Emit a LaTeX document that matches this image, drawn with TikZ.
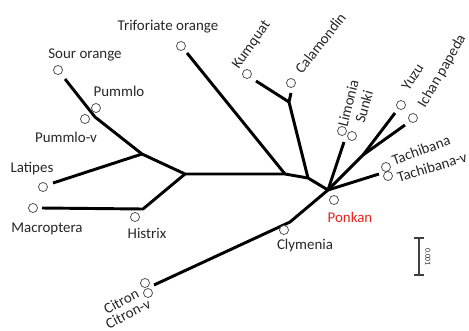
\documentclass[tikz,border=0pt]{standalone}
\usepackage{fontspec}
\setmainfont{Carlito}
\usepackage{xcolor}
\usepackage{tikz}
\usetikzlibrary{positioning}
\definecolor{inkdark}{HTML}{262626}
\definecolor{leafline}{HTML}{555555}
\definecolor{hilite}{HTML}{E8231E}
\tikzset{
  pleaf/.style={circle,draw=leafline,line width=0.6pt,fill=white,minimum size=6.8pt,inner sep=0pt},
  pbranch/.style={line width=2.2pt,draw=black,line join=round},
  plab/.style={text=inkdark,inner sep=1pt,font=\fontsize{11.2}{13}\selectfont},
  pbar/.style={line width=0.8pt,draw=black!75}
}

\begin{document}
\begin{tikzpicture}[x=0.75pt,y=-0.75pt]
  \useasboundingbox (0,0) rectangle (469,330);
  % inner junctions
  \coordinate (jP) at (95,117);
  \coordinate (jA) at (142,154);
  \coordinate (jB) at (185,174);
  \coordinate (jH) at (143,209);
  \coordinate (jC) at (285,174);
  \coordinate (jD) at (308,178);
  \coordinate (jK) at (289,102);
  \coordinate (jE) at (328,190);
  \coordinate (jY) at (363,155);
  \coordinate (jCl) at (290,222);
  % branch tips
  \coordinate (tSour) at (65,79);
  \coordinate (tLat) at (53,183);
  \coordinate (tMac) at (42,208);
  \coordinate (tTri) at (187,53);
  \coordinate (tKum) at (256,81);
  \coordinate (tCal) at (291,93);
  \coordinate (tLim) at (344,142);
  \coordinate (tYuzu) at (395,113);
  \coordinate (tIchan) at (405,125);
  \coordinate (tTach) at (379,174);
  \coordinate (tCit) at (154,285);
  % branches
  \draw[pbranch] (tSour)--(jP)--(jA)--(jB)--(jC)--(jD)--(jE);
  \draw[pbranch] (tLat)--(jA);
  \draw[pbranch] (jB)--(jH)--(tMac);
  \draw[pbranch] (tTri)--(jC);
  \draw[pbranch] (tKum)--(jK);
  \draw[pbranch] (jD)--(jK)--(tCal);
  \draw[pbranch] (jE)--(tLim);
  \draw[pbranch] (jE)--(jY)--(tYuzu);
  \draw[pbranch] (jY)--(tIchan);
  \draw[pbranch] (jE)--(tTach);
  \draw[pbranch] (jE)--(jCl)--(tCit);
  % leaves
  \node[pleaf] (sour) at (58,70) {};
  \node[pleaf] (pum) at (96,108) {};
  \node[pleaf] (pumv) at (85,119) {};
  \node[pleaf] (lat) at (43,187) {};
  \node[pleaf] (mac) at (33,208) {};
  \node[pleaf] (his) at (135,217) {};
  \node[pleaf] (tri) at (181,46) {};
  \node[pleaf] (kum) at (247,74) {};
  \node[pleaf] (cal) at (291,83) {};
  \node[pleaf] (lim) at (342,131) {};
  \node[pleaf] (sun) at (352,136) {};
  \node[pleaf] (yuz) at (401,105) {};
  \node[pleaf] (ich) at (413,118) {};
  \node[pleaf] (tac) at (386,167) {};
  \node[pleaf] (tacv) at (388,176) {};
  \node[pleaf] (pon) at (334,200) {};
  \node[pleaf] (cly) at (284,230) {};
  \node[pleaf] (cit) at (145,283) {};
  \node[pleaf] (citv) at (148,293) {};
  % labels
  \node[plab] (lsour) at (85,55) {Sour orange};
  \node[plab] (lpum) at (119,91) {Pummlo};
  \node[plab] (lpumv) at (66,137) {Pummlo-v};
  \node[plab] (llat) at (32,169) {Latipes};
  \node[plab] (lmac) at (47,229) {Macroptera};
  \node[plab] (lhis) at (147,233) {Histrix};
  \node[plab] (ltri) at (168,27) {Triforiate orange};
  \node[plab,text=hilite] (lpon) at (350,217) {Ponkan};
  \node[plab] (lcly) at (305,246) {Clymenia};
  \node[plab,rotate=55,anchor=west] (lkum) at (235,69) {Kumquat};
  \node[plab,rotate=52,anchor=west] (lcal) at (297,73) {Calamondin};
  \node[plab,rotate=76,anchor=west] (llim) at (342,128) {Limonia};
  \node[plab,rotate=74,anchor=west] (lsun) at (359,124) {Sunki};
  \node[plab,rotate=57,anchor=west] (lyuz) at (404,90) {Yuzu};
  \node[plab,rotate=60,anchor=west] (lich) at (421,108) {Ichan papeda};
  \node[plab,rotate=20,anchor=west] (ltac) at (391,161) {Tachibana};
  \node[plab,rotate=17,anchor=west] (ltacv) at (396,178) {Tachibana-v};
  \node[plab,rotate=28,anchor=east] (lcit) at (139,292) {Citron};
  \node[plab,rotate=27,anchor=east] (lcitv) at (151,302) {Citron-v};
  % scale bar
  \coordinate (sTop) at (419,238);
  \coordinate (sBot) at (419,275);
  \draw[pbar] (sTop)--(sBot);
  \draw[pbar] ([xshift=-3.5]sTop)--([xshift=3.5]sTop);
  \draw[pbar] ([xshift=-3.5]sBot)--([xshift=3.5]sBot);
  \node[text=inkdark,rotate=-90,inner sep=0pt,font=\fontsize{5.9}{7}\selectfont] (lbar) at (428,257) {0.001};
\end{tikzpicture}
\end{document}
